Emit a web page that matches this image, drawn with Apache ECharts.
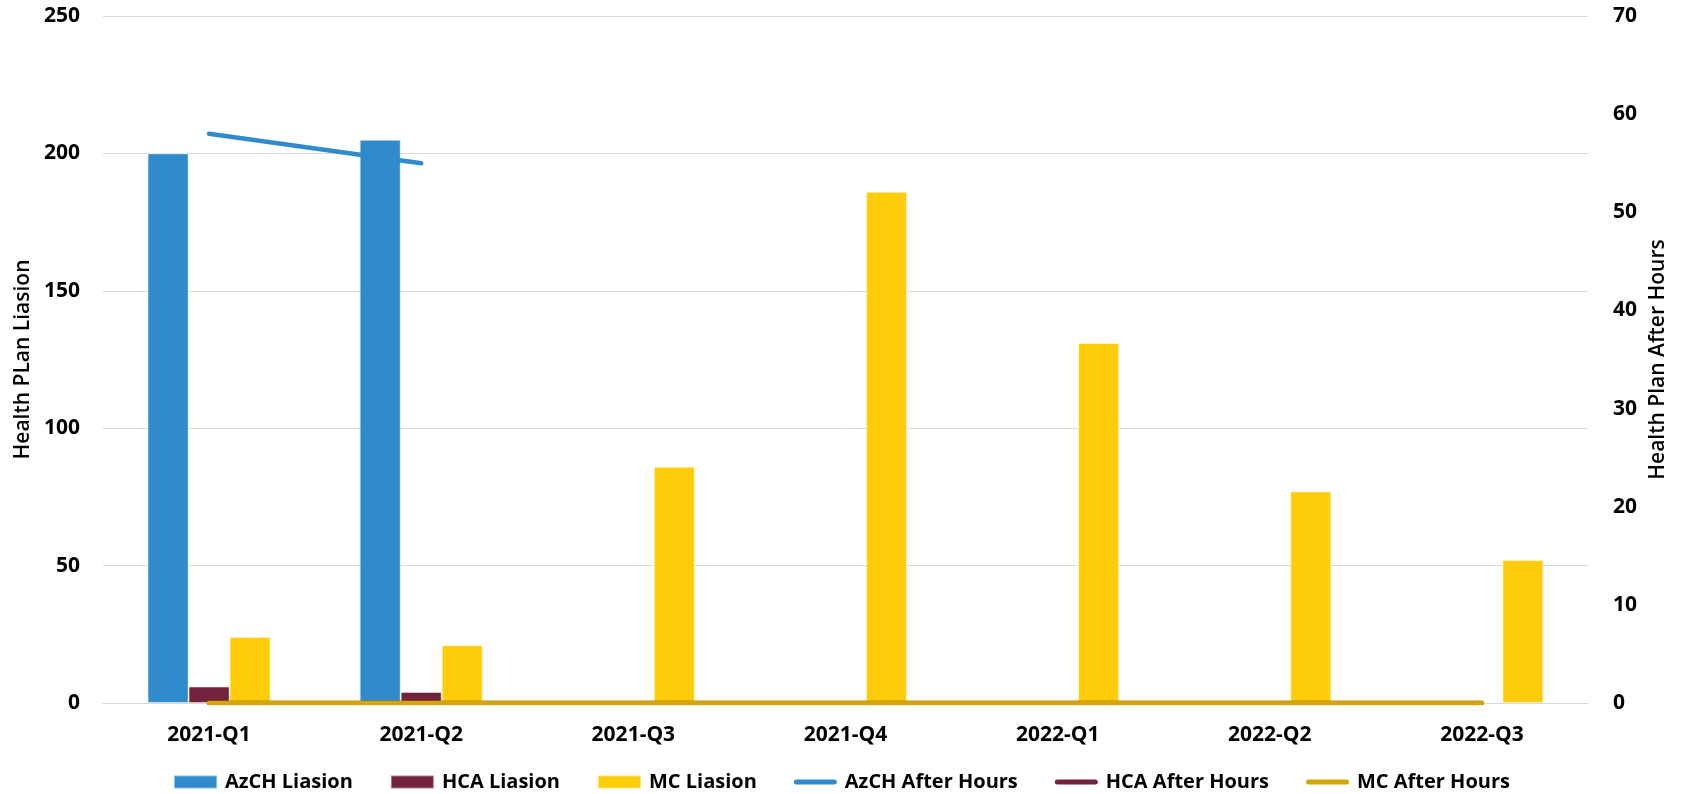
<!DOCTYPE html>
<html>
<head>
<meta charset="utf-8">
<title>Health Plan Liaison and After Hours by Quarter</title>
<script src="https://cdn.jsdelivr.net/npm/echarts@6/dist/echarts.min.js"></script>
<style>
  html, body { margin: 0; padding: 0; background: #ffffff; }
  #chart { width: 1683px; height: 794px; }
</style>
</head>
<body>
<div id="chart"></div>
<script>
// Quarters on the category axis
const quarters = ['2021-Q1', '2021-Q2', '2021-Q3', '2021-Q4', '2022-Q1', '2022-Q2', '2022-Q3'];

// Liaison counts (left axis)
const azchLiaison = [200, 205, null, null, null, null, null];
const hcaLiaison = [6, 4, null, null, null, null, null];
const mcLiaison = [24, 21, 86, 186, 131, 77, 52];

// After-hours counts (right axis)
const azchAfterHours = [58, 55, null, null, null, null, null];
const hcaAfterHours = [0, 0, 0, 0, 0, 0, 0];
const mcAfterHours = [0, 0, 0, 0, 0, 0, 0];

const FONT = '"Open Sans", "Liberation Sans", sans-serif';
const BLUE = '#2F8BCB';
const MAROON = '#72223A';
const YELLOW = '#FFCC09';
const GOLD = '#D4A700';

// Thin rounded bar used as the legend marker for the line series;
// the lone move-to points keep the marker's box at the full icon size.
const LINE_ICON = 'path://M0,0 M43,13 M2.5,4 L40.5,4 A2.5,2.5 0 0 1 40.5,9 L2.5,9 A2.5,2.5 0 0 1 2.5,4 Z';

const chart = echarts.init(document.getElementById('chart'), null, { renderer: 'canvas' });

const barSeries = (name, data, color) => ({
  name, type: 'bar', yAxisIndex: 0, data,
  barGap: '0%', barCategoryGap: '42%',
  itemStyle: { color, borderColor: 'rgba(255,255,255,0.45)', borderWidth: 1 },
  emphasis: { disabled: true }
});

const lineSeries = (name, data, color) => ({
  name, type: 'line', yAxisIndex: 1, data,
  symbol: 'none', connectNulls: false,
  lineStyle: { color, width: 4.5, cap: 'round' },
  itemStyle: { color },
  emphasis: { disabled: true }
});

const tickFont = { fontFamily: FONT, fontSize: 21, fontWeight: 'bold', color: '#000' };

chart.setOption({
  animation: false,
  backgroundColor: '#ffffff',
  grid: { left: 103, right: 95, top: 16, bottom: 91, containLabel: false },
  legend: {
    bottom: -3,
    left: 'center',
    itemWidth: 43,
    itemHeight: 13,
    itemGap: 37,
    textStyle: { fontFamily: FONT, fontSize: 20, fontWeight: 'bold', color: '#000', padding: [0, 0, 0, 3] },
    data: [
      { name: 'AzCH Liasion', icon: 'rect' },
      { name: 'HCA Liasion', icon: 'rect' },
      { name: 'MC Liasion', icon: 'rect' },
      { name: 'AzCH After Hours', icon: LINE_ICON },
      { name: 'HCA After Hours', icon: LINE_ICON },
      { name: 'MC After Hours', icon: LINE_ICON }
    ]
  },
  xAxis: {
    type: 'category',
    data: quarters,
    boundaryGap: true,
    axisLine: { show: true, lineStyle: { color: '#D9D9D9', width: 1 } },
    axisTick: { show: false },
    axisLabel: Object.assign({ margin: 22 }, tickFont)
  },
  yAxis: [
    {
      type: 'value',
      min: 0, max: 250, interval: 50,
      name: 'Health PLan Liasion',
      nameLocation: 'middle',
      nameRotate: 90,
      nameGap: 66,
      nameTextStyle: { fontFamily: FONT, fontSize: 21, fontWeight: 600, color: '#000' },
      axisLine: { show: false },
      axisTick: { show: false },
      axisLabel: Object.assign({ margin: 23 }, tickFont),
      splitLine: { lineStyle: { color: '#D9D9D9', width: 1 } }
    },
    {
      type: 'value',
      min: 0, max: 70, interval: 10,
      position: 'right',
      name: 'Health Plan After Hours',
      nameLocation: 'middle',
      nameRotate: 90,
      nameGap: 59,
      nameTextStyle: { fontFamily: FONT, fontSize: 21, fontWeight: 600, color: '#000' },
      axisLine: { show: false },
      axisTick: { show: false },
      axisLabel: Object.assign({ margin: 25 }, tickFont),
      splitLine: { show: false }
    }
  ],
  series: [
    barSeries('AzCH Liasion', azchLiaison, BLUE),
    barSeries('HCA Liasion', hcaLiaison, MAROON),
    barSeries('MC Liasion', mcLiaison, YELLOW),
    lineSeries('AzCH After Hours', azchAfterHours, BLUE),
    lineSeries('HCA After Hours', hcaAfterHours, MAROON),
    lineSeries('MC After Hours', mcAfterHours, GOLD)
  ]
});
</script>
</body>
</html>
